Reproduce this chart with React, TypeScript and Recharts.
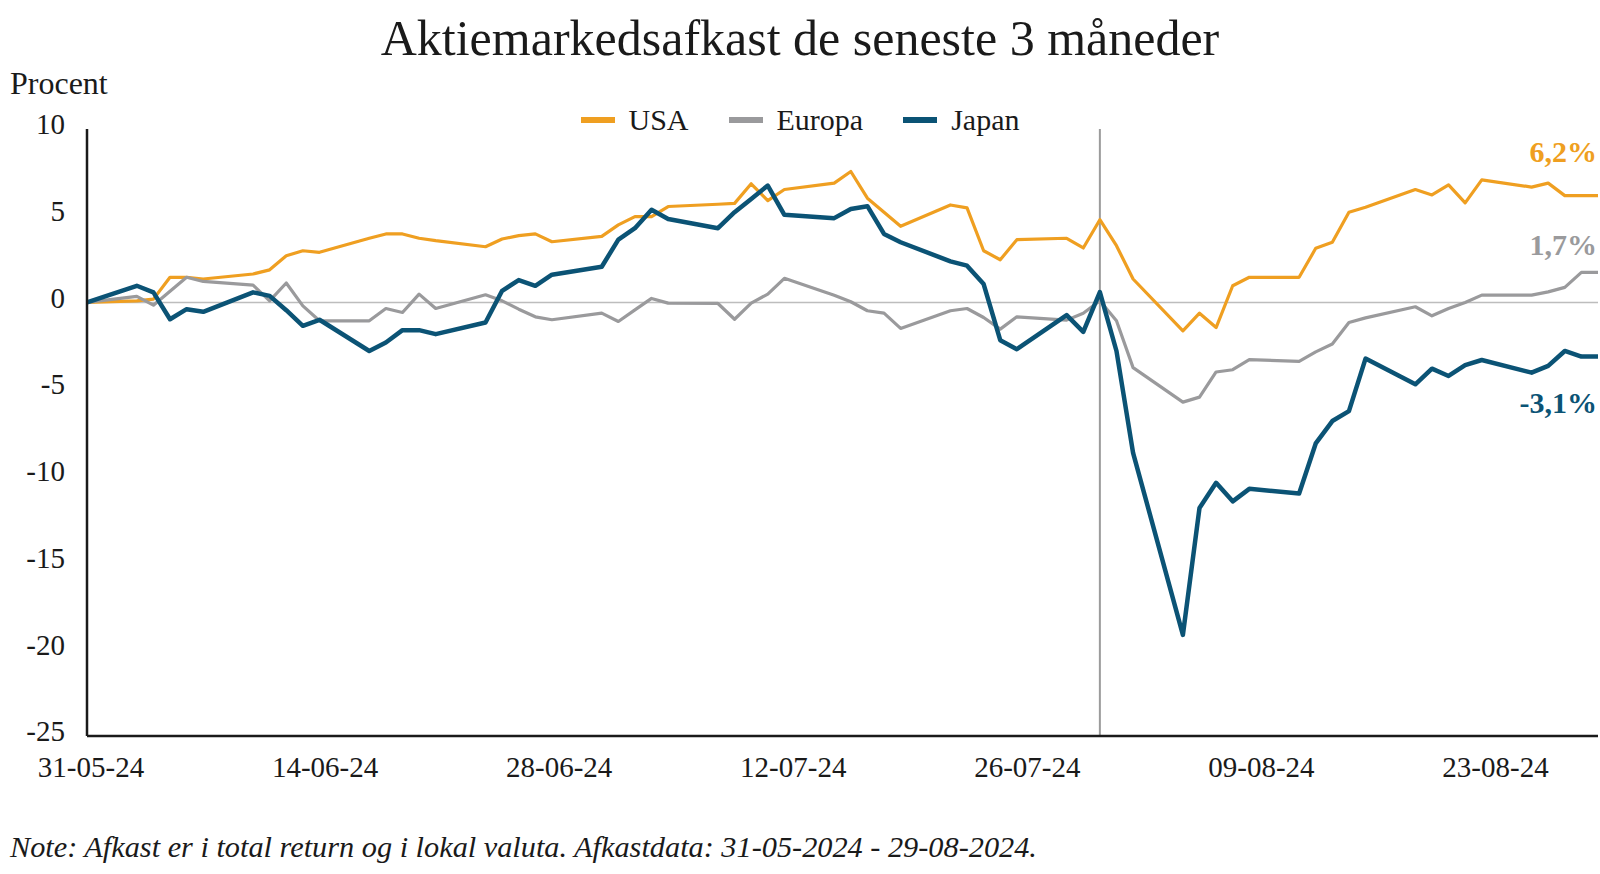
import { LineChart, Line, XAxis, YAxis, ReferenceLine, Legend } from "recharts";

const FONT = "'Liberation Serif', 'DejaVu Serif', serif";

// handelsdage (dd-mm-yy)
const dates = [
  "31-05-24",
  "03-06-24", "04-06-24", "05-06-24", "06-06-24", "07-06-24",
  "10-06-24", "11-06-24", "12-06-24", "13-06-24", "14-06-24",
  "17-06-24", "18-06-24", "19-06-24", "20-06-24", "21-06-24",
  "24-06-24", "25-06-24", "26-06-24", "27-06-24", "28-06-24",
  "01-07-24", "02-07-24", "03-07-24", "04-07-24", "05-07-24",
  "08-07-24", "09-07-24", "10-07-24", "11-07-24", "12-07-24",
  "15-07-24", "16-07-24", "17-07-24", "18-07-24", "19-07-24",
  "22-07-24", "23-07-24", "24-07-24", "25-07-24", "26-07-24",
  "29-07-24", "30-07-24", "31-07-24", "01-08-24", "02-08-24",
  "05-08-24", "06-08-24", "07-08-24", "08-08-24", "09-08-24",
  "12-08-24", "13-08-24", "14-08-24", "15-08-24", "16-08-24",
  "19-08-24", "20-08-24", "21-08-24", "22-08-24", "23-08-24",
  "26-08-24", "27-08-24", "28-08-24", "29-08-24", "30-08-24",
];

const usa = [
  0,
  0.09, 0.19, 1.45, 1.45, 1.35,
  1.64, 1.88, 2.69, 2.98, 2.89,
  3.7, 3.95, 3.95, 3.7, 3.56,
  3.21, 3.66, 3.85, 3.95, 3.5,
  3.81, 4.47, 4.95, 4.95, 5.53,
  5.66, 5.71, 6.84, 5.87, 6.51,
  6.88, 7.55, 6.01, 5.2, 4.39,
  5.62, 5.45, 2.98, 2.46, 3.62,
  3.7, 3.14, 4.77, 3.27, 1.35,
  -1.64, -0.62, -1.45, 0.96, 1.45,
  1.45, 3.12, 3.47, 5.2, 5.49,
  6.51, 6.2, 6.78, 5.74, 7.07,
  6.65, 6.88, 6.16, 6.16, 6.16,
];

const europa = [
  0,
  0.35, -0.16, 0.65, 1.45, 1.21,
  1.0, 0.09, 1.12, -0.2, -1.06,
  -1.06, -0.35, -0.58, 0.48, -0.35,
  0.44, 0.09, -0.39, -0.83, -1.0,
  -0.62, -1.1, -0.43, 0.23, -0.04,
  -0.06, -0.97, -0.04, 0.48, 1.39,
  0.42, 0.04, -0.48, -0.62, -1.5,
  -0.48, -0.35, -0.87, -1.54, -0.83,
  -1.02, -0.62, 0.1, -1.06, -3.76,
  -5.75, -5.46, -4.01, -3.88, -3.3,
  -3.4, -2.85, -2.4, -1.16, -0.89,
  -0.25, -0.77, -0.35, 0.0, 0.42,
  0.42, 0.61, 0.87, 1.73, 1.73,
];

const japan = [
  0,
  0.96, 0.58, -0.97, -0.39, -0.54,
  0.58, 0.38, -0.45, -1.35, -1.0,
  -2.8, -2.31, -1.6, -1.6, -1.83,
  -1.16, 0.67, 1.29, 0.96, 1.6,
  2.06, 3.62, 4.28, 5.34, 4.81,
  4.28, 5.2, 5.97, 6.74, 5.05,
  4.86, 5.39, 5.55, 3.95, 3.47,
  2.37, 2.12, 1.06, -2.18, -2.7,
  -0.73, -1.7, 0.6, -2.8, -8.67,
  -19.17, -11.85, -10.4, -11.47, -10.75,
  -11.02, -8.13, -6.84, -6.27, -3.24,
  -4.72, -3.82, -4.24, -3.62, -3.32,
  -4.05, -3.66, -2.8, -3.12, -3.12,
];

const seriesOrder = ["USA", "Europa", "Japan"];
const xTickLabels = ["31-05-24", "14-06-24", "28-06-24", "12-07-24", "26-07-24", "09-08-24", "23-08-24"];
const yTicks = [-25, -20, -15, -10, -5, 0, 5, 10];
const eventDate = "31-07-24";

const toDay = (s: string) => {
  const [dd, mm, yy] = s.split("-").map(Number);
  return Math.round((Date.UTC(2000 + yy, mm - 1, dd) - Date.UTC(2024, 4, 31)) / 86400000);
};

const chartData = dates.map((d, i) => ({
  day: toDay(d),
  date: d,
  USA: usa[i],
  Europa: europa[i],
  Japan: japan[i],
}));

const LAST = chartData.length - 1;
const xTicks = xTickLabels.map(toDay);
const labelOf = (day: number) => xTickLabels[xTicks.indexOf(day)] ?? "";
const fmt = (v: number) => v.toFixed(1).replace(".", ",") + "%";

const ORANGE = "#EF9F21";
const GREY = "#9A9A9C";
const BLUE = "#0B5375";
const INK = "#1a1a1a";

// labels in the original sit a touch right of the date, more so further right
const renderXTick = (p: any) => (
  <text x={p.x + 4 + 0.116 * p.payload.value} y={p.y} dy="0.71em" textAnchor="middle" fontSize={29} fill={INK} fontFamily={FONT}>
    {labelOf(p.payload.value)}
  </text>
);

const renderYTick = (p: any) => (
  <text x={p.x} y={p.y - 5} dy="0.355em" textAnchor="end" fontSize={29} fill={INK} fontFamily={FONT}>
    {p.payload.value}
  </text>
);

const endLabel = (color: string, offset: number) => (p: any) =>
  p.index === LAST ? (
    <text
      x={p.x - 1}
      y={p.y + offset}
      dy="0.35em"
      textAnchor="end"
      fontSize={30}
      fontWeight="bold"
      fill={color}
      fontFamily={FONT}
    >
      {fmt(p.value)}
    </text>
  ) : null;

const renderLegend = (props: any) => {
  const items = [...(props.payload || [])].sort(
    (a: any, b: any) => seriesOrder.indexOf(a.value) - seriesOrder.indexOf(b.value)
  );
  return (
    <div style={{ display: "flex", justifyContent: "center", alignItems: "center", height: 30, fontFamily: FONT, fontSize: 30, lineHeight: "30px", color: INK }}>
      {items.map((e: any, i: number) => (
        <div key={e.value} style={{ display: "flex", alignItems: "center", marginLeft: i ? 40 : 0 }}>
          <span style={{ display: "inline-block", width: 34, height: 6, background: e.color, marginRight: 14 }} />
          <span>{e.value}</span>
        </div>
      ))}
    </div>
  );
};

export default function App() {
  return (
    <div style={{ position: "absolute", left: 0, top: 0, width: 1600, height: 874, background: "#fff", fontFamily: FONT }}>
      <LineChart width={1600} height={874} data={chartData} margin={{ top: 129, right: 2, bottom: 108, left: 27 }}>
        <XAxis
          type="number"
          dataKey="day"
          domain={[0, 91]}
          ticks={xTicks}
          interval={0}
          height={30}
          axisLine={{ stroke: INK, strokeWidth: 2.5 }}
          tickLine={false}
          tickSize={0}
          tickMargin={20}
          tick={renderXTick}
        />
        <YAxis
          type="number"
          domain={[-25, 10]}
          ticks={yTicks}
          interval={0}
          width={60}
          axisLine={{ stroke: INK, strokeWidth: 2.5 }}
          tickLine={false}
          tickSize={0}
          tickMargin={22}
          tick={renderYTick}
        />
        <ReferenceLine y={0} stroke="#bdbdbd" strokeWidth={1.5} />
        <ReferenceLine x={toDay(eventDate)} stroke="#9b9b9b" strokeWidth={2} />
        <Legend
          layout="horizontal"
          verticalAlign="middle"
          align="center"
          content={renderLegend}
          wrapperStyle={{ top: 105, left: 0, width: 1600 }}
        />
        <Line type="linear" dataKey="USA" name="USA" stroke={ORANGE} strokeWidth={3.2} dot={false} strokeLinejoin="round" isAnimationActive={false} label={endLabel(ORANGE, -44)} />
        <Line type="linear" dataKey="Europa" name="Europa" stroke={GREY} strokeWidth={3.2} dot={false} strokeLinejoin="round" isAnimationActive={false} label={endLabel(GREY, -28)} />
        <Line type="linear" dataKey="Japan" name="Japan" stroke={BLUE} strokeWidth={4.5} dot={false} strokeLinejoin="round" isAnimationActive={false} label={endLabel(BLUE, 46)} />
      </LineChart>
      <svg width={1600} height={874} style={{ position: "absolute", left: 0, top: 0, pointerEvents: "none" }}>
        <text x={800} y={55} textAnchor="middle" fontSize={50} fill={INK} fontFamily={FONT}>
          Aktiemarkedsafkast de seneste 3 måneder
        </text>
        <text x={10} y={94} fontSize={32} fill={INK} fontFamily={FONT}>
          Procent
        </text>
        <text x={10} y={857} fontSize={30.3} fontStyle="italic" fill={INK} fontFamily={FONT}>
          Note: Afkast er i total return og i lokal valuta. Afkastdata: 31-05-2024 - 29-08-2024.
        </text>
      </svg>
    </div>
  );
}
